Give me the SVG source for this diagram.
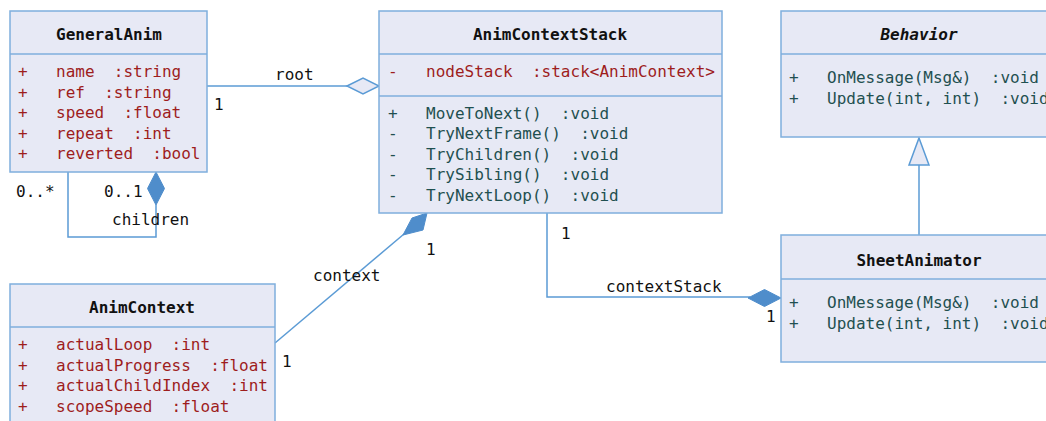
<svg xmlns="http://www.w3.org/2000/svg" width="1046" height="421" viewBox="0 0 1046 421" xml:space="preserve">
<style>
.box{fill:#E7E9F5;stroke:#7FAEDD;stroke-width:1.5}
.sep{stroke:#7FAEDD;stroke-width:1.5}
text{font-family:"DejaVu Sans Mono","Liberation Mono",monospace;font-size:16px;white-space:pre}
.title{font-weight:bold;fill:#111;text-anchor:middle}
.attr{fill:#9E1D1D}
.meth{fill:#1F5050}
.lbl{fill:#111}
.conn{fill:none;stroke:#5B9BD5;stroke-width:1.5}
.fd{fill:#4F8DCB;stroke:#4F8DCB;stroke-width:1}
.hd{fill:#E7E9F5;stroke:#5B9BD5;stroke-width:1.5}
</style>
<rect width="1046" height="421" fill="#fff"/>
<g id="connectors">
<path class="conn" d="M207 86 H348"/>
<polygon class="hd" points="347,86 363,78 379,86 363,94"/>
<path class="conn" d="M68 172 V237 H156 V205"/>
<polygon class="fd" points="156,172 164.5,188.5 156,205 147.5,188.5"/>
<path class="conn" d="M275 343 L404 234"/>
<polygon class="fd" points="427,213 423,230 403,235 412,218"/>
<path class="conn" d="M547 213 V297 H750"/>
<polygon class="fd" points="781,298 764.5,306.5 748,298 764.5,289.5"/>
<path class="conn" d="M919 165 V235"/>
<polygon class="hd" points="919,138 929,165 909,165"/>
<text class="lbl" x="275" y="80">root</text>
<text class="lbl" x="214" y="110">1</text>
<text class="lbl" x="16" y="197">0..*</text>
<text class="lbl" x="104" y="197">0..1</text>
<text class="lbl" x="112" y="225">children</text>
<text class="lbl" x="313" y="281">context</text>
<text class="lbl" x="426" y="255">1</text>
<text class="lbl" x="282" y="367">1</text>
<text class="lbl" x="606" y="292">contextStack</text>
<text class="lbl" x="561" y="239">1</text>
<text class="lbl" x="766" y="322">1</text>
</g>
<g id="GeneralAnim">
<rect class="box" x="10" y="11" width="197" height="161"/>
<line class="sep" x1="10" y1="54" x2="207" y2="54"/>
<text class="title" x="109" y="40">GeneralAnim</text>
<text class="attr" x="18" y="77">+</text><text class="attr" x="56" y="77">name  :string</text>
<text class="attr" x="18" y="97.5">+</text><text class="attr" x="56" y="97.5">ref  :string</text>
<text class="attr" x="18" y="118">+</text><text class="attr" x="56" y="118">speed  :float</text>
<text class="attr" x="18" y="138.5">+</text><text class="attr" x="56" y="138.5">repeat  :int</text>
<text class="attr" x="18" y="159">+</text><text class="attr" x="56" y="159">reverted  :bool</text>
</g>
<g id="AnimContextStack">
<rect class="box" x="379" y="11" width="343" height="202"/>
<line class="sep" x1="379" y1="54" x2="722" y2="54"/>
<line class="sep" x1="379" y1="96" x2="722" y2="96"/>
<text class="title" x="550" y="40">AnimContextStack</text>
<text class="attr" x="388" y="77">-</text><text class="attr" x="426" y="77">nodeStack  :stack&lt;AnimContext&gt;</text>
<text class="meth" x="388" y="118.5">+</text><text class="meth" x="426" y="118.5">MoveToNext()  :void</text>
<text class="meth" x="388" y="139">-</text><text class="meth" x="426" y="139">TryNextFrame()  :void</text>
<text class="meth" x="388" y="159.5">-</text><text class="meth" x="426" y="159.5">TryChildren()  :void</text>
<text class="meth" x="388" y="180">-</text><text class="meth" x="426" y="180">TrySibling()  :void</text>
<text class="meth" x="388" y="201">-</text><text class="meth" x="426" y="201">TryNextLoop()  :void</text>
</g>
<g id="Behavior">
<rect class="box" x="781" y="11" width="280" height="126"/>
<line class="sep" x1="781" y1="54" x2="1061" y2="54"/>
<text class="title" x="919" y="40" font-style="italic">Behavior</text>
<text class="meth" x="789" y="83">+</text><text class="meth" x="827" y="83">OnMessage(Msg&amp;)  :void</text>
<text class="meth" x="789" y="104">+</text><text class="meth" x="827" y="104">Update(int, int)  :void</text>
</g>
<g id="SheetAnimator">
<rect class="box" x="781" y="235" width="280" height="127"/>
<line class="sep" x1="781" y1="279" x2="1061" y2="279"/>
<text class="title" x="919" y="266">SheetAnimator</text>
<text class="meth" x="789" y="308">+</text><text class="meth" x="827" y="308">OnMessage(Msg&amp;)  :void</text>
<text class="meth" x="789" y="329">+</text><text class="meth" x="827" y="329">Update(int, int)  :void</text>
</g>
<g id="AnimContext">
<rect class="box" x="10" y="284" width="265" height="150"/>
<line class="sep" x1="10" y1="327" x2="275" y2="327"/>
<text class="title" x="142" y="313">AnimContext</text>
<text class="attr" x="18" y="350">+</text><text class="attr" x="56" y="350">actualLoop  :int</text>
<text class="attr" x="18" y="370.5">+</text><text class="attr" x="56" y="370.5">actualProgress  :float</text>
<text class="attr" x="18" y="391">+</text><text class="attr" x="56" y="391">actualChildIndex  :int</text>
<text class="attr" x="18" y="412">+</text><text class="attr" x="56" y="412">scopeSpeed  :float</text>
</g>
</svg>
